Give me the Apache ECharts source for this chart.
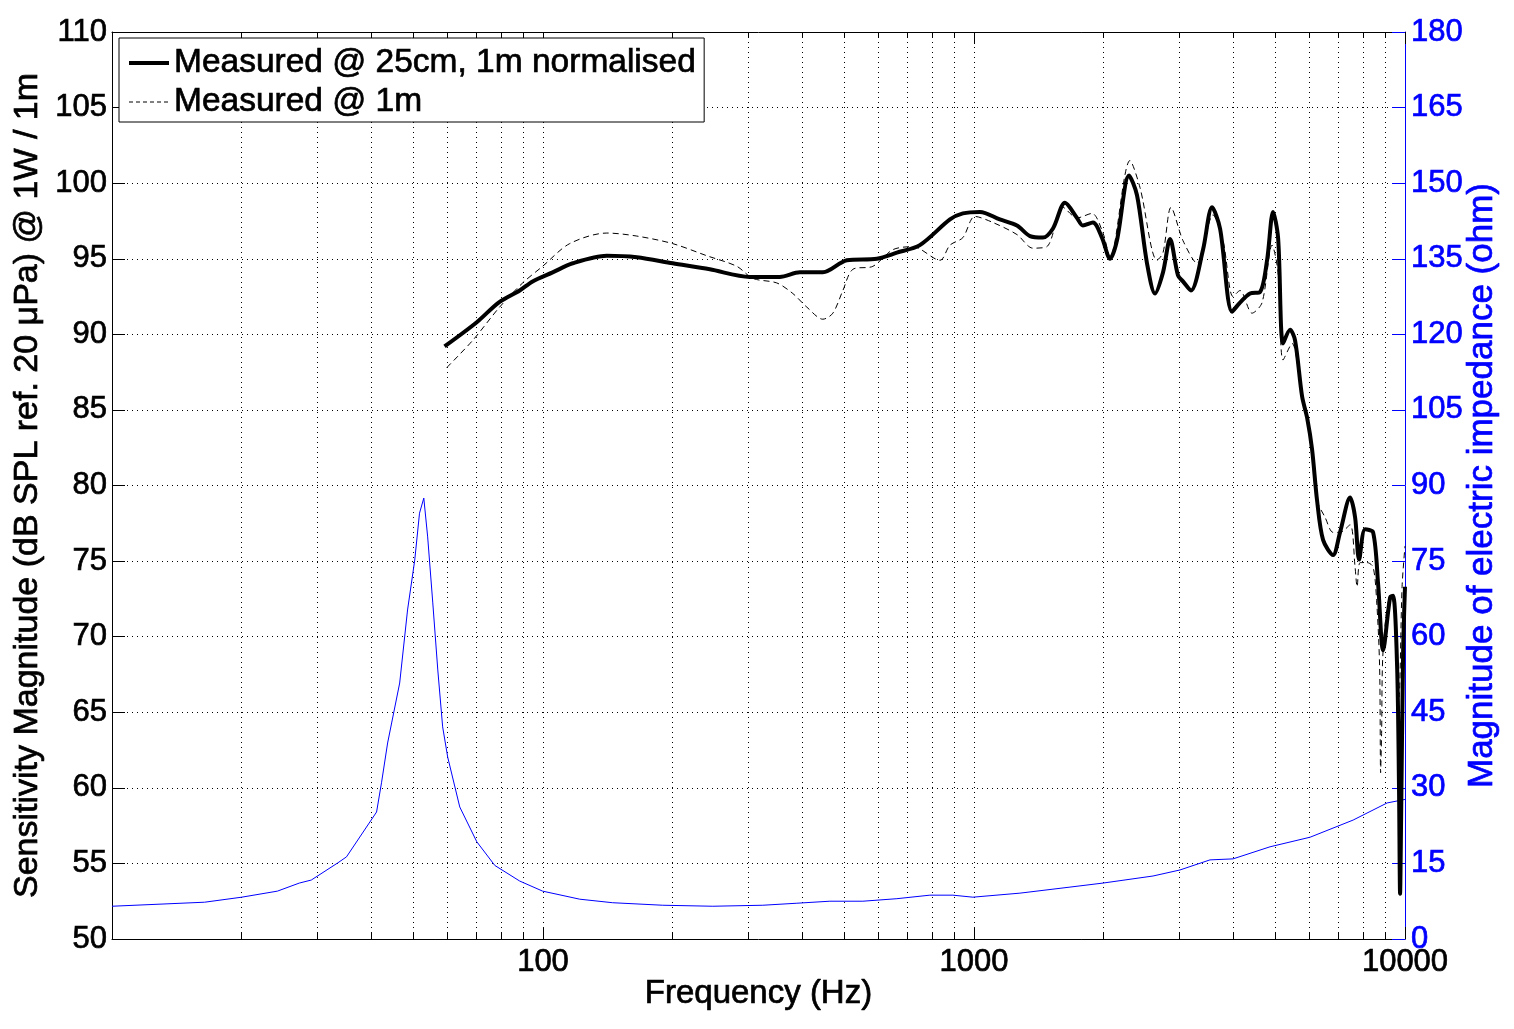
<!DOCTYPE html>
<html>
<head>
<meta charset="utf-8">
<script src="https://cdn.jsdelivr.net/npm/echarts@6/dist/echarts.min.js"></script>
<style>
html,body{margin:0;padding:0;background:#fff;}
#chart{width:1514px;height:1029px;}
</style>
</head>
<body>
<div id="chart"></div>
<script>
// ---- Data ----
// Measured @ 25cm, 1m normalised (thick solid)
const freq25 = [59.1,70.2,78.9,88.3,94.6,105.3,117.2,140.6,165.1,200,243.8,301.8,354.3,394.4,446,507,595.2,662.3,748.8,879.5,942.4,1032,1148,1258,1349,1445,1525,1626,1734,1789,1888,1981,2068,2146,2289,2389,2520,2630,2745,2850,2974,3054,3187,3399,3567,3723,3969,4142,4370,4610,4786,4942,5076,5213,5412,5558,5770,5926,6086,6252,6455,6809,7068,7457,7659,7825,8080,8433,8661,8896,9236,9385,9588,9685,9741,9795,9900,10000];
const spl25  = [89.2,90.8,92.1,92.9,93.5,94.1,94.7,95.2,95.1,94.7,94.3,93.8,93.8,94.1,94.1,94.9,95.0,95.4,95.9,97.6,98.0,98.1,97.6,97.2,96.5,96.4,97.0,98.7,97.7,97.2,97.4,96.4,95.0,96.2,100.5,99.2,94.7,92.7,94.1,96.3,93.9,93.5,92.9,95.6,98.4,97.0,91.5,92.1,92.7,92.8,94.9,98.1,96.4,89.4,90.3,89.6,85.9,84.5,82.4,79.0,76.4,75.4,76.9,79.2,77.9,75.1,77.1,76.9,73.5,69.1,72.6,72.7,68.0,60.0,53.0,58.0,69.0,73.3];
// Measured @ 1m (thin dashed)
const freq1m = [59.8,68.7,79.3,89.7,99.8,115.3,140.6,165.1,200,239.9,281.6,306.8,348.7,379.9,409.4,446,470.5,496.3,523.5,582.7,648.3,721.4,833.7,879.5,942.4,1005,1106,1258,1370,1476,1609,1734,1878,1992,2068,2301,2428,2658,2745,2865,3054,3291,3585,3783,3990,4142,4417,4660,4915,5076,5213,5469,5770,5926,6086,6252,6524,6809,7068,7457,7659,7743,7868,8168,8433,8593,8732,8778,8825,8896,9236,9485,9685,9845,10000];
const spl1m  = [87.8,89.6,91.8,93.4,94.5,96.0,96.7,96.5,96.0,95.2,94.5,93.7,93.4,92.7,91.8,91.0,91.4,92.9,94.3,94.5,95.6,95.8,94.9,95.9,96.4,97.8,97.4,96.6,95.7,95.8,98.4,97.7,98.0,96.7,95.1,101.5,99.7,94.9,95.4,98.4,96.2,94.7,97.9,96.2,92.5,92.9,91.4,92.1,95.9,94.1,88.3,89.4,85.9,84.5,82.4,79.0,77.9,76.9,76.9,77.4,74.6,73.3,74.9,74.9,74.6,72.4,68.0,61.0,63.6,69.1,72.6,72.0,66.0,73.3,76.0];
// Impedance magnitude (blue, right axis, ohm)
const freqZ = [10,16.4,20,24.2,27.2,29,33.4,35,41.1,42.2,43.6,46.5,48.5,50.4,51.7,52.9,54,55.5,57,58.5,60.1,64.1,70.2,77.3,88.3,99.8,121.7,145.1,189.6,247.7,323.6,388.1,463,552.3,662.3,790,893.3,994,1278,1670,1992,2602,3006,3528,3990,4863,6023,7578,9089,10000];
const impZ  = [6.5,7.3,8.3,9.5,11.1,11.7,15.1,16.3,25.2,31,38.9,50.8,65.3,75.2,84.5,87.5,79.8,66.7,53.4,42.1,36.1,26.2,19.3,14.6,11.5,9.5,7.9,7.2,6.7,6.5,6.7,7.1,7.5,7.5,8.0,8.7,8.7,8.3,9.1,10.3,11.1,12.5,13.7,15.7,15.9,18.3,20.2,23.6,27.0,27.7];
// Axis ticks
const xTicks = [10,100,1000,10000];
const yLeftTicks = [50,55,60,65,70,75,80,85,90,95,100,105,110];
const yRightTicks = [0,15,30,45,60,75,90,105,120,135,150,165,180];

const legendNames = ['Measured @ 25cm, 1m normalised','Measured @ 1m'];

function pairs(xs, ys){ return xs.map((x,i)=>[x, ys[i]]); }

const FONT = '"Liberation Sans", Arial, Helvetica, sans-serif';
const dotted = {color:'#000', width:1, type:[1,4]};
const blackText = (size)=>({fontSize:size, color:'#000', fontFamily:FONT, textBorderColor:'#000', textBorderWidth:0.7});
const blueText = (size)=>({fontSize:size, color:'#0000ff', fontFamily:FONT, textBorderColor:'#0000ff', textBorderWidth:0.7});

const chart = echarts.init(document.getElementById('chart'), null, {renderer:'canvas'});
chart.setOption({
  animation:false,
  backgroundColor:'#fff',
  textStyle:{fontFamily:FONT},
  grid:{left:112, right:109, top:32, bottom:90, containLabel:false},
  legend:{
    data:[
      {name:legendNames[0], lineStyle:{width:4, color:'#000', type:'solid'}},
      {name:legendNames[1], lineStyle:{width:1, color:'#000', type:[4,3]}}
    ],
    orient:'vertical',
    left:119, top:38,
    padding:[7,8,2,8],
    itemGap:3,
    itemWidth:40, itemHeight:14,
    itemStyle:{opacity:0},
    backgroundColor:'#fff',
    borderColor:'#000', borderWidth:1, borderRadius:0,
    textStyle:Object.assign(blackText(33.5), {lineHeight:36})
  },
  xAxis:[{
    type:'log', logBase:10, min:xTicks[0], max:xTicks[xTicks.length-1],
    name:'Frequency (Hz)', nameLocation:'middle', nameGap:38, nameMoveOverlap:false,
    nameTextStyle:blackText(33),
    axisLine:{show:true, lineStyle:{color:'#000', width:1}},
    axisTick:{show:true, inside:true, length:12, lineStyle:{color:'#000'}},
    minorTick:{show:true, splitNumber:9, length:6, lineStyle:{color:'#000'}},
    axisLabel:Object.assign(blackText(31), {show:true, showMinLabel:false, margin:8, formatter:v=>String(v)}),
    splitLine:{show:true, lineStyle:dotted},
    minorSplitLine:{show:true, lineStyle:dotted}
  },{
    type:'log', logBase:10, min:xTicks[0], max:xTicks[xTicks.length-1], position:'top',
    axisLine:{show:true, lineStyle:{color:'#000', width:1}},
    axisTick:{show:true, inside:true, length:12, lineStyle:{color:'#000'}},
    minorTick:{show:true, splitNumber:9, length:6, lineStyle:{color:'#000'}},
    axisLabel:{show:false}, splitLine:{show:false}
  }],
  yAxis:[{
    type:'value', min:yLeftTicks[0], max:yLeftTicks[yLeftTicks.length-1], interval:5,
    name:'Sensitivity Magnitude (dB SPL ref. 20 μPa) @ 1W / 1m', nameLocation:'middle', nameGap:67, nameMoveOverlap:false,
    nameTextStyle:blackText(34),
    axisLine:{show:true, lineStyle:{color:'#000', width:1}},
    axisTick:{show:true, inside:true, length:13, lineStyle:{color:'#000'}},
    axisLabel:Object.assign(blackText(31), {margin:5}),
    splitLine:{show:true, lineStyle:dotted}
  },{
    type:'value', min:yRightTicks[0], max:yRightTicks[yRightTicks.length-1], interval:15, position:'right',
    name:'Magnitude of electric impedance (ohm)', nameLocation:'middle', nameGap:60, nameMoveOverlap:false,
    nameTextStyle:blueText(35),
    axisLine:{show:true, lineStyle:{color:'#0000ff', width:1}},
    axisTick:{show:true, inside:true, length:13, lineStyle:{color:'#0000ff'}},
    axisLabel:Object.assign(blueText(31), {margin:6}),
    splitLine:{show:false}
  }],
  series:[{
    name:legendNames[0], type:'line', xAxisIndex:0, yAxisIndex:0,
    data:pairs(freq25, spl25), showSymbol:false, symbol:'none', smooth:0.3, z:5,
    lineStyle:{color:'#000', width:4}, itemStyle:{color:'#000'}
  },{
    name:legendNames[1], type:'line', xAxisIndex:0, yAxisIndex:0,
    data:pairs(freq1m, spl1m), showSymbol:false, symbol:'none', smooth:0.3, z:4,
    lineStyle:{color:'#000', width:1, type:[6,4]}, itemStyle:{color:'#000'}
  },{
    name:'Impedance', type:'line', xAxisIndex:0, yAxisIndex:1,
    data:pairs(freqZ, impZ), showSymbol:false, symbol:'none', smooth:false, z:3,
    lineStyle:{color:'#0000ff', width:1}, itemStyle:{color:'#0000ff'}
  }]
});
</script>
</body>
</html>
